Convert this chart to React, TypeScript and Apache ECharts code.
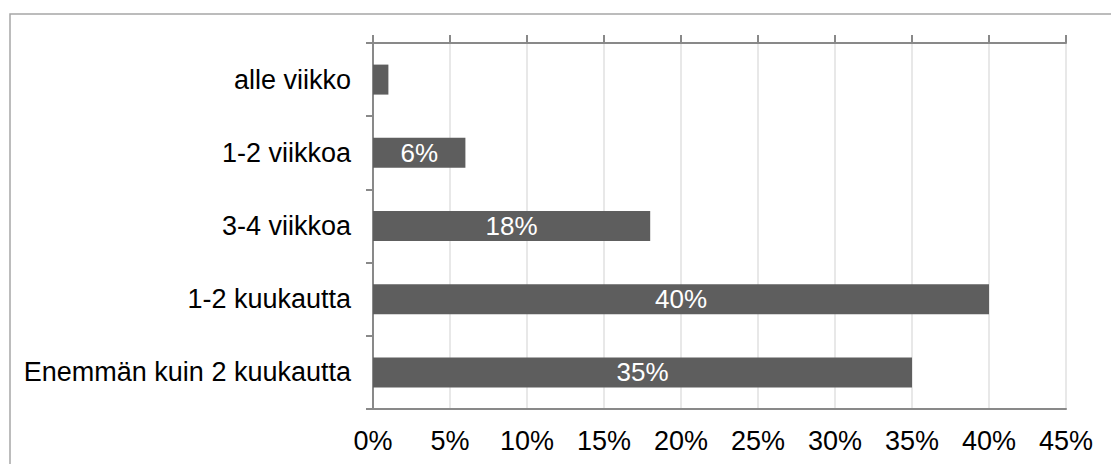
import React, { useEffect, useRef } from "react";
import * as echarts from "echarts";

const categories = [
  "alle viikko",
  "1-2 viikkoa",
  "3-4 viikkoa",
  "1-2 kuukautta",
  "Enemmän kuin 2 kuukautta",
];
const values = [1, 6, 18, 40, 35];
const axisMin = 0;
const axisMax = 45;
const axisStep = 5;

const FONT = "'Liberation Sans', Arial, sans-serif";
const AXIS_GRAY = "#898989";

export default function App() {
  const ref = useRef<HTMLDivElement>(null);
  useEffect(() => {
    document.body.style.margin = "0";
    const chart = echarts.init(ref.current!, null, { renderer: "svg" });
    chart.setOption({
      animation: false,
      backgroundColor: "#ffffff",
      textStyle: { fontFamily: FONT },
      grid: { left: 373, right: 45, top: 43, bottom: 55, containLabel: false },
      graphic: [
        {
          type: "rect",
          shape: { x: 10, y: 14, width: 1300, height: 700 },
          style: { fill: "none", stroke: "#a6a6a6", lineWidth: 1.5 },
          silent: true,
          z: -10,
        },
      ],
      xAxis: [
        {
          type: "value",
          position: "top",
          min: axisMin,
          max: axisMax,
          interval: axisStep,
          axisLine: { show: true, lineStyle: { color: AXIS_GRAY, width: 2 } },
          axisTick: { show: true, inside: false, length: 8, lineStyle: { color: AXIS_GRAY, width: 2 } },
          axisLabel: { show: false },
          splitLine: { show: true, lineStyle: { color: "#e0e0e0", width: 1.5 } },
        },
        {
          type: "value",
          position: "bottom",
          min: axisMin,
          max: axisMax,
          interval: axisStep,
          axisLine: { show: true, lineStyle: { color: AXIS_GRAY, width: 2 } },
          axisTick: { show: false },
          axisLabel: {
            show: true,
            formatter: "{value}%",
            fontSize: 27,
            color: "#000",
            fontFamily: FONT,
            margin: 18,
          },
          splitLine: { show: false },
        },
      ],
      yAxis: [
        {
          type: "category",
          data: categories,
          inverse: true,
          position: "left",
          axisLine: { show: true, lineStyle: { color: AXIS_GRAY, width: 2 } },
          axisTick: { show: true, length: 7, alignWithLabel: false, lineStyle: { color: AXIS_GRAY, width: 2 } },
          axisLabel: { fontSize: 27, color: "#000", fontFamily: FONT, margin: 22 },
          splitLine: { show: false },
        },
        {
          type: "category",
          data: categories,
          inverse: true,
          position: "right",
          axisLine: { show: true, lineStyle: { color: AXIS_GRAY, width: 2 } },
          axisTick: { show: false },
          axisLabel: { show: false },
          splitLine: { show: false },
        },
      ],
      series: [
        {
          type: "bar",
          xAxisIndex: 0,
          yAxisIndex: 0,
          data: values.map((v) => ({
            value: v,
            label: { show: v >= 3 },
          })),
          barWidth: 30,
          itemStyle: { color: "#5e5e5e" },
          label: {
            show: true,
            position: "inside",
            formatter: "{c}%",
            color: "#ffffff",
            fontSize: 26,
            fontFamily: FONT,
          },
        },
      ],
    });
    return () => chart.dispose();
  }, []);
  return <div ref={ref} style={{ width: 1111, height: 464 }} />;
}
